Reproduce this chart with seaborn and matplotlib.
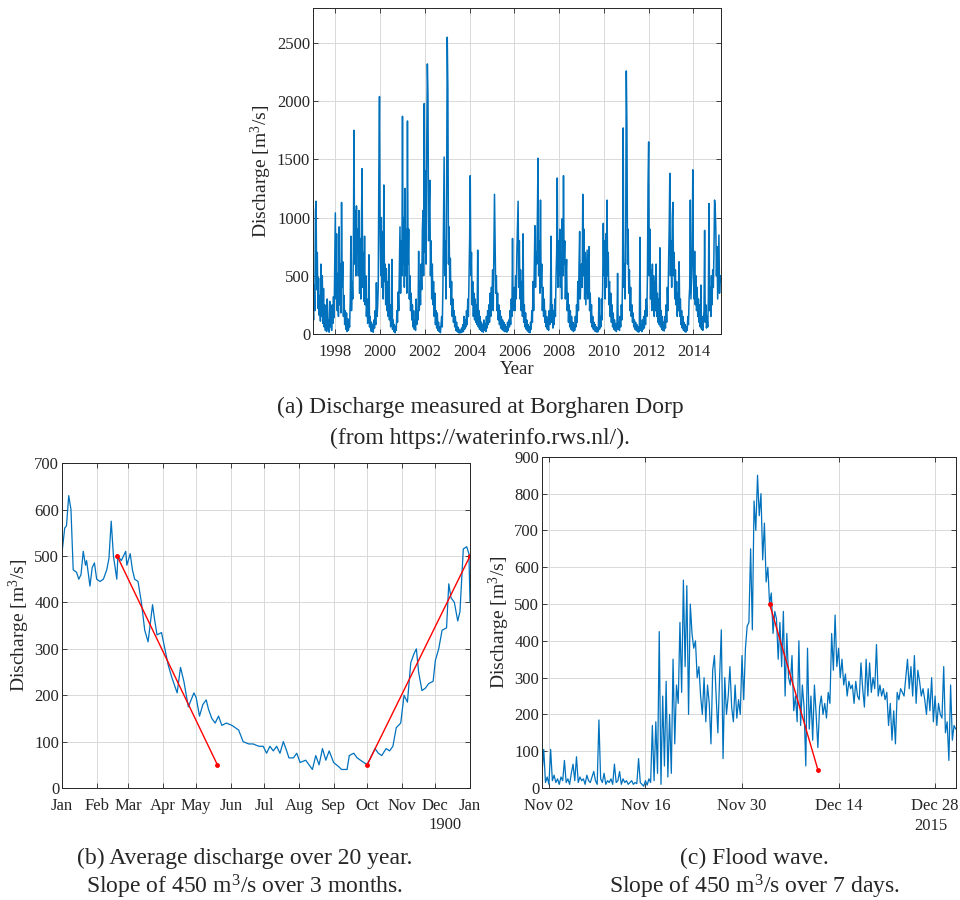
import numpy as np
import pandas as pd
import matplotlib
matplotlib.use("Agg")
import matplotlib.pyplot as plt
import seaborn as sns

# Daily discharge at Borgharen Dorp (~10 day steps)
q1997 = [250, 120, 420, 200, 1060, 1140, 380, 700, 220, 480, 160, 330, 110, 600, 150, 500, 90, 390,
         60, 250, 30, 150, 20, 300, 40, 120, 15, 280, 60, 180, 30, 250, 90, 320, 140, 560]
q1998 = [1040, 300, 860, 200, 520, 150, 920, 250, 600, 180, 1130, 400, 620, 150, 330, 80, 200, 40,
         180, 20, 130, 30, 90, 60, 300, 840, 200, 450, 300, 700, 1750, 600, 1060, 500, 1100, 700]
q1999 = [900, 500, 1060, 350, 820, 300, 950, 1420, 400, 700, 280, 840, 250, 500, 150, 300, 90, 200,
         680, 60, 150, 25, 100, 20, 80, 15, 120, 50, 200, 80, 440, 150, 230, 400, 1400, 2040]
q2000 = [900, 500, 1000, 400, 880, 300, 1280, 450, 600, 250, 560, 200, 450, 150, 600, 120, 250, 60,
         180, 640, 40, 120, 20, 80, 10, 60, 30, 200, 100, 360, 200, 550, 920, 350, 800, 500]
q2001 = [1870, 600, 1000, 400, 1250, 500, 900, 350, 1830, 600, 900, 300, 500, 200, 350, 120, 250, 60,
         200, 40, 120, 30, 300, 80, 200, 120, 710, 200, 450, 250, 600, 380, 900, 1060, 500, 1980]
q2002 = [700, 1400, 600, 1600, 2320, 2050, 800, 1100, 1320, 500, 800, 300, 600, 250, 450, 150, 350, 80,
         200, 50, 180, 30, 100, 20, 60, 10, 80, 150, 60, 400, 1000, 1520, 500, 800, 300, 1200]
q2003 = [2550, 2100, 600, 920, 400, 650, 250, 450, 150, 300, 100, 200, 60, 150, 30, 100, 20, 60,
         10, 40, 8, 30, 10, 50, 15, 80, 20, 150, 40, 120, 60, 200, 80, 300, 150, 500]
q2004 = [800, 1360, 500, 700, 250, 450, 150, 350, 120, 300, 100, 250, 80, 720, 60, 200, 40, 150,
         30, 100, 20, 80, 15, 120, 30, 90, 20, 150, 50, 200, 80, 250, 100, 350, 150, 400]
q2005 = [300, 550, 200, 700, 1200, 740, 350, 500, 200, 350, 120, 250, 80, 200, 50, 150, 40, 120,
         30, 100, 20, 80, 20, 60, 15, 100, 30, 120, 60, 200, 80, 300, 150, 820, 200, 350]
q2006 = [400, 200, 500, 300, 700, 940, 1140, 400, 800, 300, 550, 200, 450, 150, 860, 100, 250, 60,
         180, 40, 120, 25, 80, 15, 60, 10, 100, 40, 200, 100, 450, 200, 600, 930, 400, 700]
q2007 = [600, 1000, 1510, 500, 800, 350, 1150, 400, 600, 200, 400, 150, 300, 100, 200, 60, 150, 40,
         120, 30, 200, 80, 300, 840, 100, 250, 50, 200, 80, 300, 150, 500, 700, 1340, 400, 800]
q2008 = [500, 900, 400, 700, 300, 990, 500, 1360, 600, 800, 300, 500, 640, 200, 350, 100, 250, 60,
         200, 40, 150, 30, 100, 20, 80, 30, 150, 60, 250, 100, 450, 200, 600, 880, 300, 500]
q2009 = [600, 400, 1200, 500, 900, 300, 700, 250, 500, 720, 300, 600, 750, 200, 350, 100, 250, 60,
         150, 40, 100, 25, 80, 20, 60, 15, 50, 20, 310, 40, 150, 60, 300, 120, 400, 950]
q2010 = [500, 800, 300, 860, 400, 1150, 500, 700, 250, 450, 150, 350, 100, 250, 60, 180, 40, 120,
         30, 90, 20, 60, 520, 40, 100, 30, 150, 60, 250, 120, 500, 1770, 400, 600, 300, 800]
q2011 = [2260, 1780, 600, 900, 350, 550, 200, 400, 150, 250, 100, 180, 60, 120, 40, 100, 30, 80,
         20, 60, 15, 50, 830, 30, 80, 20, 120, 40, 150, 50, 200, 80, 300, 150, 500, 1290]
q2012 = [1650, 500, 900, 300, 550, 200, 600, 250, 500, 150, 450, 200, 600, 150, 350, 100, 300, 80,
         740, 60, 200, 40, 150, 30, 100, 25, 150, 50, 250, 100, 400, 200, 600, 900, 1380, 500]
q2013 = [800, 400, 1000, 1130, 500, 700, 300, 550, 250, 450, 150, 350, 200, 620, 150, 300, 80, 200,
         50, 150, 30, 100, 20, 80, 15, 60, 30, 150, 80, 300, 400, 1150, 300, 500, 700, 1410]
q2014 = [500, 300, 710, 250, 500, 200, 400, 150, 300, 100, 250, 60, 420, 40, 150, 30, 100, 200,
         890, 100, 250, 50, 150, 60, 300, 1120, 200, 400, 150, 500, 250, 550, 400, 700, 1150, 1090]
q2015 = [900, 500, 750, 300, 600, 850, 350, 500, 450]

# Average year (day of year 1900, discharge)
avg_day = [0, 2.4, 4, 6, 8, 10, 13, 15, 17, 19, 21, 22, 25, 27, 29, 31, 34, 37, 40, 42, 44, 46, 49,
           50, 53, 57, 58, 61, 63, 65, 68, 71, 74, 77, 81, 83, 85, 89, 92, 95, 98, 103, 106, 109,
           113, 118, 120, 123, 126, 129, 131, 134, 137, 140, 143, 147, 152, 158, 162, 167, 171,
           176, 180, 183, 186, 189, 192, 195, 198, 201, 203, 207, 210, 213, 218, 221, 224, 227,
           230, 233, 236, 239, 243, 248, 250, 255, 257, 261, 264, 267, 270, 273, 276, 280, 283,
           286, 290, 293, 296, 299, 303, 306, 309, 312, 315, 317, 319, 322, 325, 328, 332, 334,
           337, 340, 344, 346, 348, 351, 354, 356, 359, 362, 364, 365]
avg_q = [507, 560, 565, 630, 600, 470, 465, 450, 460, 510, 480, 490, 435, 475, 485, 450, 445, 450,
         470, 495, 575, 500, 450, 500, 490, 510, 480, 505, 470, 450, 445, 400, 340, 315, 395, 360,
         330, 335, 300, 265, 240, 205, 260, 230, 175, 205, 195, 155, 180, 190, 170, 150, 140, 155,
         135, 140, 135, 125, 100, 95, 95, 90, 90, 75, 90, 80, 90, 75, 100, 80, 65, 65, 75, 55, 60,
         50, 40, 70, 50, 85, 60, 80, 55, 45, 40, 40, 70, 75, 65, 60, 55, 50, 65, 85, 75, 70, 85,
         80, 90, 130, 140, 200, 185, 270, 290, 300, 250, 210, 215, 225, 230, 275, 300, 340, 345,
         440, 410, 400, 360, 380, 515, 520, 505, 400]

# Flood wave Nov-Dec 2015, 6 hourly values per day
flood = [
    [40, 105, 15, 30], [10, 105, 20, 35], [15, 25, 10, 30], [20, 75, 15, 25],
    [10, 40, 65, 20], [85, 15, 30, 20], [25, 10, 35, 20], [15, 30, 45, 20],
    [10, 185, 25, 15], [40, 10, 20, 15], [25, 10, 65, 15], [20, 45, 10, 25],
    [15, 20, 10, 15], [20, 10, 15, 12], [80, 15, 10, 5], [20, 8, 25, 15],
    [170, 20, 180, 40], [425, 10, 250, 60], [290, 30, 200, 40], [350, 120, 280, 230],
    [450, 260, 565, 330], [550, 200, 500, 420], [380, 400, 300, 330], [250, 200, 300, 180],
    [280, 230, 120, 320], [360, 250, 150, 300], [430, 80, 300, 200], [250, 330, 220, 180],
    [280, 190, 240, 200], [360, 240, 380, 440], [450, 650, 430, 780], [700, 850, 740, 800],
    [620, 720, 560, 600], [500, 530, 420, 480], [460, 350, 450, 330], [480, 250, 420, 300],
    [280, 360, 210, 250], [180, 400, 170, 280], [220, 60, 380, 160], [250, 130, 280, 200],
    [110, 220, 250, 200], [230, 190, 260, 230], [420, 320, 470, 330], [380, 300, 350, 280],
    [310, 250, 290, 270], [280, 230, 290, 250], [240, 340, 270, 220], [350, 250, 340, 260],
    [300, 270, 390, 250], [280, 250, 270, 240], [260, 170, 230, 130], [210, 120, 260, 240],
    [270, 260, 250, 300], [350, 270, 330, 250], [360, 230, 320, 290], [250, 270, 240, 200],
    [270, 210, 300, 180], [250, 170, 230, 200], [190, 330, 150, 180], [75, 280, 130, 170],
]
flood_last = 160

# Slope lines (x, discharge)
slope_b_x = [[49.3, 139], [273, 365]]
slope_b_y = [[500, 50], [50, 500]]
slope_c_x = [33, 40]
slope_c_y = [500, 50]

month_labels = ["Jan", "Feb", "Mar", "Apr", "May", "Jun", "Jul", "Aug", "Sep", "Oct", "Nov", "Dec", "Jan"]
month_start = [0, 31, 59, 90, 120, 151, 181, 212, 243, 273, 304, 334, 365]
flood_labels = ["Nov 02", "Nov 16", "Nov 30", "Dec 14", "Dec 28"]
flood_ticks = [1, 15, 29, 43, 57]

sns.set_style("ticks")
plt.rcParams["font.family"] = ["Liberation Serif", "DejaVu Serif"]
plt.rcParams["mathtext.fontset"] = "custom"
plt.rcParams["mathtext.rm"] = "Liberation Serif"
plt.rcParams["mathtext.it"] = "Liberation Serif:italic"
plt.rcParams["xtick.direction"] = "in"
plt.rcParams["ytick.direction"] = "in"
plt.rcParams["xtick.top"] = True
plt.rcParams["ytick.right"] = True
plt.rcParams["xtick.major.size"] = 3.5
plt.rcParams["ytick.major.size"] = 3.5
plt.rcParams["xtick.major.width"] = 0.6
plt.rcParams["ytick.major.width"] = 0.6
plt.rcParams["axes.linewidth"] = 0.7
plt.rcParams["axes.edgecolor"] = "#262626"
plt.rcParams["xtick.color"] = "#262626"
plt.rcParams["ytick.color"] = "#262626"
plt.rcParams["font.size"] = 12

BLUE = "#0072BD"
YLAB = "Discharge [m$^3$/s]"
LABSIZE = 14

fig = plt.figure(figsize=(9.6, 9.0), dpi=100)

ax_a = fig.add_axes([0.326, 0.629, 0.425, 0.362])
ax_b = fig.add_axes([0.0646, 0.1244, 0.425, 0.361])
ax_c = fig.add_axes([0.5646, 0.1244, 0.431, 0.368])

# (a) full record
years = [q1997, q1998, q1999, q2000, q2001, q2002, q2003, q2004, q2005, q2006, q2007,
         q2008, q2009, q2010, q2011, q2012, q2013, q2014, q2015]
q_all = np.concatenate([np.array(v, dtype=float) for v in years])
df_a = pd.DataFrame({"year": 1997 + np.arange(len(q_all)) / 36.0, "q": q_all})
sns.lineplot(data=df_a, x="year", y="q", ax=ax_a, color=BLUE, lw=1.1, estimator=None)
ax_a.set_xlim(1997.0, 2015.23)
ax_a.set_ylim(0, 2800)
ax_a.set_xticks(range(1998, 2015, 2))
ax_a.set_yticks(range(0, 2501, 500))
ax_a.set_xlabel("Year", labelpad=1, fontsize=13.5)
ax_a.set_ylabel(YLAB, labelpad=2, fontsize=LABSIZE)

# (b) average year
df_b = pd.DataFrame({"day": avg_day, "q": avg_q})
sns.lineplot(data=df_b, x="day", y="q", ax=ax_b, color=BLUE, lw=0.9, estimator=None)
for sx, sy in zip(slope_b_x, slope_b_y):
    ax_b.plot(sx, sy, color="red", lw=1.0, marker=".", ms=5)
ax_b.set_xlim(0, 365)
ax_b.set_ylim(0, 700)
ax_b.set_xticks(month_start)
ax_b.set_xticklabels(month_labels)
ax_b.set_yticks(range(0, 701, 100))
ax_b.set_xlabel("")
ax_b.set_ylabel(YLAB, labelpad=2, fontsize=LABSIZE)
ax_b.text(0.94, -0.09, "1900", transform=ax_b.transAxes, ha="center", va="top", fontsize=12, color="#262626")

# (c) flood wave
q_c = np.append(np.array(flood, dtype=float).ravel(), flood_last)
df_c = pd.DataFrame({"day": np.arange(len(q_c)) / 4.0, "q": q_c})
sns.lineplot(data=df_c, x="day", y="q", ax=ax_c, color=BLUE, lw=0.9, estimator=None)
ax_c.plot(slope_c_x, slope_c_y, color="red", lw=1.0, marker=".", ms=5)
ax_c.set_xlim(0, 60)
ax_c.set_ylim(0, 900)
ax_c.set_xticks(flood_ticks)
ax_c.set_xticklabels(flood_labels)
ax_c.set_yticks(range(0, 901, 100))
ax_c.set_xlabel("")
ax_c.set_ylabel(YLAB, labelpad=2, fontsize=LABSIZE)
ax_c.text(0.94, -0.09, "2015", transform=ax_c.transAxes, ha="center", va="top", fontsize=12, color="#262626")

for ax in (ax_a, ax_b, ax_c):
    ax.grid(True, color="#d9d9d9", lw=0.7)
    ax.set_axisbelow(True)
    for side in ("top", "right"):
        ax.spines[side].set_visible(True)
    ax.tick_params(axis="y", pad=2)
    ax.tick_params(axis="x", pad=7)

cap = 17
fig.text(0.5, 0.547, "(a) Discharge measured at Borgharen Dorp", ha="center", va="center", fontsize=cap)
fig.text(0.5, 0.513, "(from https://waterinfo.rws.nl/).", ha="center", va="center", fontsize=cap)
fig.text(0.255, 0.046, "(b) Average discharge over 20 year.", ha="center", va="center", fontsize=cap)
fig.text(0.255, 0.015, "Slope of 450 m$^3$/s over 3 months.", ha="center", va="center", fontsize=cap)
fig.text(0.786, 0.046, "(c) Flood wave.", ha="center", va="center", fontsize=cap)
fig.text(0.786, 0.015, "Slope of 450 m$^3$/s over 7 days.", ha="center", va="center", fontsize=cap)

fig.savefig("out.png", dpi=100)
